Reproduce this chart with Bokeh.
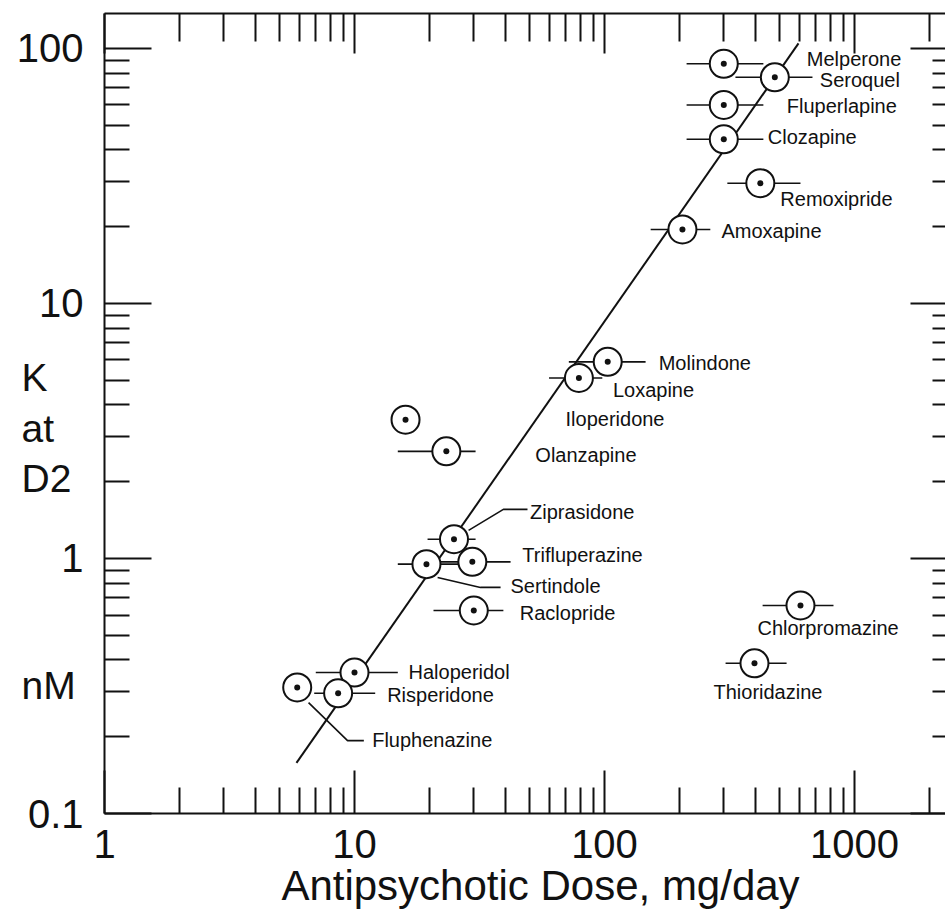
from bokeh.plotting import figure
from bokeh.models import ColumnDataSource, FixedTicker, NumeralTickFormatter, LogAxis
from bokeh.core.properties import value
from bokeh.embed import file_html
from bokeh.resources import INLINE

# ---------------- data ----------------
drugs = ["Melperone", "Seroquel", "Fluperlapine", "Clozapine", "Remoxipride",
         "Amoxapine", "Molindone", "Loxapine", "Iloperidone", "Olanzapine",
         "Ziprasidone", "Trifluperazine", "Sertindole", "Raclopride",
         "Haloperidol", "Risperidone", "Fluphenazine", "Chlorpromazine",
         "Thioridazine"]
dose = [300, 480, 300, 300, 420, 205, 103, 79, 16, 23.3, 25, 29.6, 19.4, 30,
        10, 8.6, 5.9, 608, 398]
k_d2 = [87, 77, 60, 44, 29.6, 19.5, 5.9, 5.1, 3.5, 2.63, 1.19, 0.97, 0.95,
        0.625, 0.357, 0.296, 0.312, 0.654, 0.388]
dose_lo = [213, 334, 213, 213, 310, 153, 72, 60, None, 14.9, 19.6, 22.1, 14.9,
           20.7, 7.0, 6.9, None, 429, 305]
dose_hi = [432, 679, 432, 432, 608, 265, 146, 98, None, 30.5, 30.5, 42.1, 26.5,
           39.4, 14.9, 12.1, None, 824, 535]

fit_x = [5.86, 597]
fit_y = [0.158, 104.6]

leader_x = [[28.6, 39.4, 49.2], [21.5, 31.9, 38.4], [6.55, 9.38, 10.9]]
leader_y = [[1.288, 1.557, 1.557], [0.842, 0.77, 0.77], [0.272, 0.193, 0.193]]

x_major = [1, 10, 100, 1000]
x_minor = [2, 3, 4, 5, 6, 7, 8, 9, 20, 30, 40, 50, 60, 70, 80, 90,
           200, 300, 400, 500, 600, 700, 800, 900, 2000]
y_major = [0.1, 1, 10, 100]
y_minor = [0.2, 0.3, 0.4, 0.5, 0.6, 0.7, 0.8, 0.9, 2, 3, 4, 5, 6, 7, 8, 9,
           20, 30, 40, 50, 60, 70, 80, 90]

x_title = "Antipsychotic Dose, mg/day"
y_title = ["K", "at", "D2", "nM"]

# label placement (screen px offsets from each point)
lab_dx = [83, 45, 63, 44, 20, 39, 51, 34, 160, 89, 76, 50, 84, 46, 54, 49, 75, -43, -41]
lab_dy = [-5, 3, 1, -2, 16, 2, 1, 12, -1, 4, -27, -7, 22, 2, -1, 2, 53, 23, 29]

INK = "#111111"
FONT = "Liberation Sans"
X0, X1 = 1, 2312
Y0, Y1 = 0.1, 137

p = figure(width=945, height=911, x_axis_type="log", y_axis_type="log",
           x_range=(X0, X1), y_range=(Y0, Y1),
           output_backend="svg", toolbar_location=None,
           min_border_left=104, min_border_right=0, min_border_top=13,
           min_border_bottom=98)
p.xgrid.visible = False
p.ygrid.visible = False
p.outline_line_color = None


def style(ax, maj_in, min_in, fmt, labels=True, line=True):
    ax.major_tick_in = maj_in
    ax.major_tick_out = 0
    ax.minor_tick_in = min_in
    ax.minor_tick_out = 0
    ax.major_tick_line_width = 2
    ax.minor_tick_line_width = 2
    ax.major_tick_line_color = INK
    ax.minor_tick_line_color = INK
    if line:
        ax.axis_line_width = 2
        ax.axis_line_color = INK
    else:
        ax.axis_line_color = None
    ax.formatter = NumeralTickFormatter(format=fmt)
    if labels:
        ax.major_label_text_font = FONT
        ax.major_label_text_font_size = "40px"
        ax.major_label_text_color = INK
    else:
        ax.major_label_text_font_size = "1px"
        ax.major_label_text_alpha = 0
        ax.major_label_standoff = 0


xb = p.xaxis[0]
xb.ticker = FixedTicker(ticks=x_major, minor_ticks=x_minor)
style(xb, 43, 26, "0")
xb.major_label_standoff = 16

yl = p.yaxis[0]
yl.ticker = FixedTicker(ticks=y_major, minor_ticks=y_minor)
style(yl, 47, 25, "0[.]0")
yl.major_label_standoff = 21

xt = LogAxis(ticker=FixedTicker(ticks=x_major, minor_ticks=x_minor))
style(xt, 40, 28, "0", labels=False)
p.add_layout(xt, "above")

yr = LogAxis(ticker=FixedTicker(ticks=y_major, minor_ticks=y_minor))
style(yr, 35, 13, "0", labels=False, line=False)
p.add_layout(yr, "right")

# regression line
p.line(fit_x, fit_y, line_color=INK, line_width=2)

# leader lines
p.multi_line(leader_x, leader_y, line_color=INK, line_width=1.6)

# error bars
bars = [(k, lo, hi) for k, lo, hi in zip(k_d2, dose_lo, dose_hi) if lo is not None]
bsrc = ColumnDataSource(dict(y=[b[0] for b in bars], lo=[b[1] for b in bars], hi=[b[2] for b in bars]))
p.segment(x0="lo", y0="y", x1="hi", y1="y", source=bsrc, line_color=INK, line_width=1.6)

src = ColumnDataSource(dict(x=dose, y=k_d2, drug=drugs, dx=lab_dx, dy=lab_dy))
p.scatter("x", "y", source=src, marker="circle", size=28, fill_color="white",
          line_color=INK, line_width=2)
p.scatter("x", "y", source=src, marker="circle", size=6, fill_color=INK,
          line_color=None)

p.text("x", "y", text="drug", source=src, x_offset="dx", y_offset="dy",
       text_align="left", text_baseline="middle", text_font=value(FONT),
       text_font_size="20px", text_color=INK)

# y-axis title: stacked words, anchored at the lower-left frame corner (unclipped level)
ysrc = ColumnDataSource(dict(x=[X0] * 4, y=[Y0] * 4, t=y_title, dx=[-83] * 4,
                             dy=[-436, -385, -335, -128]))
p.text("x", "y", text="t", source=ysrc, x_offset="dx", y_offset="dy",
       text_align="left", text_baseline="alphabetic", text_font=value(FONT),
       text_font_size="39px", text_color=INK, level="overlay")

# x-axis title
tsrc = ColumnDataSource(dict(x=[X0], y=[Y0], t=[x_title], dx=[436], dy=[72]))
p.text("x", "y", text="t", source=tsrc, x_offset="dx", y_offset="dy",
       text_align="center", text_baseline="alphabetic", text_font=value(FONT),
       text_font_size="42px", text_color=INK, level="overlay")

open("out.html", "w", encoding="utf-8").write(file_html(p, INLINE))
